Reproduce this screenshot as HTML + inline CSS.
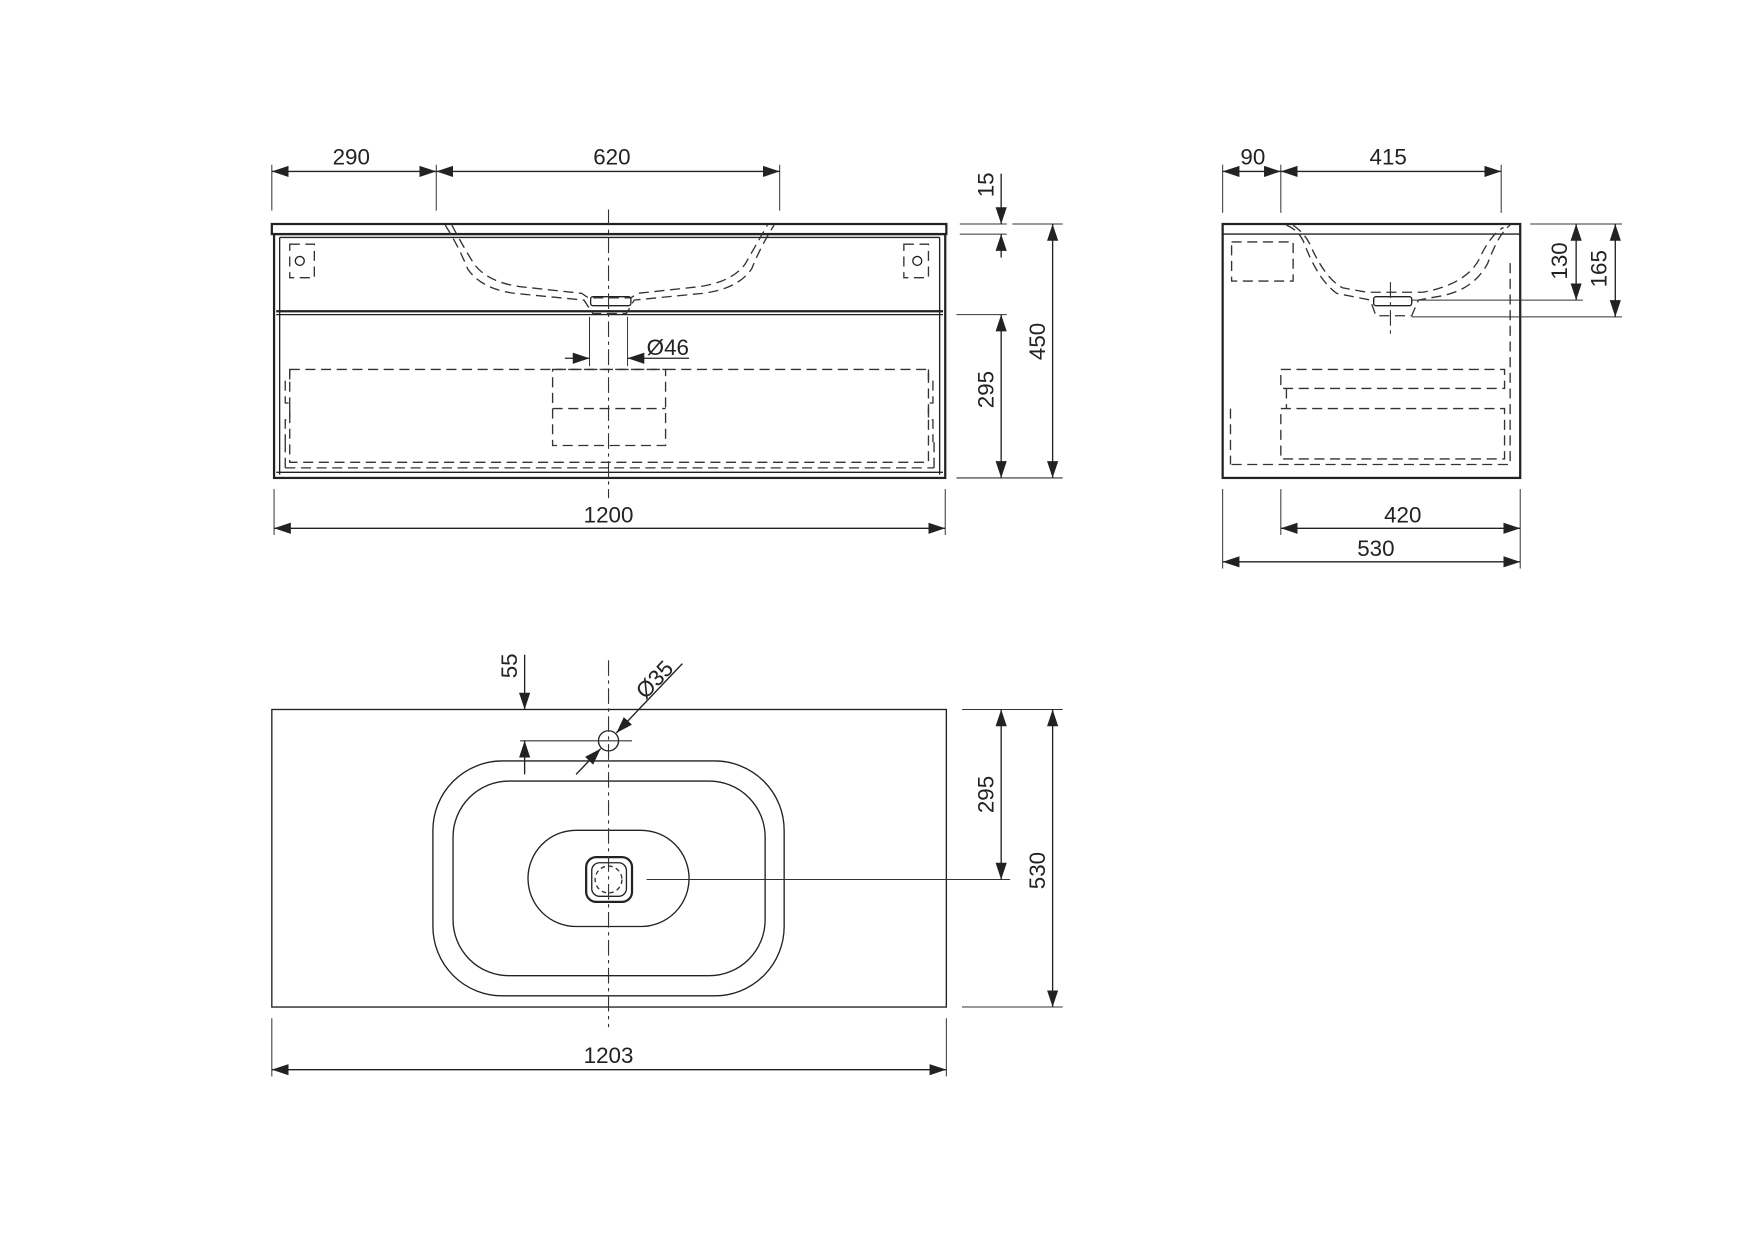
<!DOCTYPE html>
<html><head><meta charset="utf-8"><style>
html,body{margin:0;padding:0;background:#fff}
svg{display:block}
text{font-family:"Liberation Sans",Arial,sans-serif;font-size:20px;fill:#222}
.l{stroke:#222;stroke-width:1.2;fill:none}
.t{stroke:#222;stroke-width:2;fill:none}
.d{stroke:#333;stroke-width:1.2;fill:none;stroke-dasharray:9 5}
.c{stroke:#333;stroke-width:1;fill:none;stroke-dasharray:14 4 3 4}
.e{stroke:#333;stroke-width:0.9;fill:none}
</style></head><body>
<svg width="1754" height="1240" viewBox="0 0 1568 1108" xmlns="http://www.w3.org/2000/svg">
<defs>
<marker id="a" markerUnits="userSpaceOnUse" markerWidth="16" markerHeight="12" refX="15" refY="5" orient="auto-start-reverse"><path d="M0,0 L15,5 L0,10 Z" fill="#222"/></marker>
</defs>

<!-- FRONT VIEW -->
<rect x="243" y="200" width="603" height="9" class="t"/>
<rect x="245" y="209" width="600" height="218" class="t"/>
<line x1="250" y1="212" x2="250" y2="424" class="l"/>
<line x1="840" y1="212" x2="840" y2="424" class="l"/>
<line x1="250" y1="212" x2="840" y2="212" class="l"/>
<line x1="247" y1="278" x2="843" y2="278" class="t"/>
<line x1="247" y1="281" x2="843" y2="281" class="l"/>
<line x1="247" y1="422" x2="843" y2="422" class="l"/>
<!-- brackets -->
<rect x="259" y="218" width="22" height="30" class="d"/>
<circle cx="268" cy="233" r="4" class="l"/>
<rect x="808" y="218" width="22" height="30" class="d"/>
<circle cx="820" cy="233" r="4" class="l"/>
<!-- basin section -->
<path d="M398,201 Q410,220 418,240 Q430,258 460,262 L522,268 L530,280 L560,280 L567,268 L628,262 Q660,258 672,240 Q680,220 692,201" class="d"/>
<path d="M404,201 Q415,222 424,236 Q436,252 465,256 L520,262 L526,266 L564,266 L570,262 L625,256 Q654,252 666,236 Q674,222 686,201" class="d"/>
<rect x="528" y="265" width="36" height="8" rx="2" class="l"/>
<!-- drawer dashed -->
<rect x="259" y="330" width="571" height="83" class="d"/>
<rect x="494" y="330" width="101" height="68" class="d"/>
<line x1="494" y1="365" x2="595" y2="365" class="d"/>
<path d="M259,330 v10 h-4 v20 h4 v15 h-4 v20 M830,330 v10 h4 v20 h-4 v15 h4 v20" class="d"/>
<line x1="255" y1="395" x2="255" y2="418" class="d"/>
<line x1="835" y1="395" x2="835" y2="418" class="d"/>
<line x1="255" y1="418" x2="835" y2="418" class="d"/>
<!-- centerline -->
<line x1="544" y1="187" x2="544" y2="445" class="c"/>
<!-- ø46 -->
<line x1="527" y1="283" x2="527" y2="327" class="e"/>
<line x1="561" y1="283" x2="561" y2="327" class="e"/>
<line x1="505" y1="320" x2="527" y2="320" class="l" marker-end="url(#a)"/>
<line x1="616" y1="320" x2="561" y2="320" class="l" marker-end="url(#a)"/>
<text x="597" y="317" text-anchor="middle">Ø46</text>
<!-- 290 / 620 -->
<line x1="243" y1="147" x2="243" y2="188" class="e"/>
<line x1="390" y1="147" x2="390" y2="188" class="e"/>
<line x1="697" y1="147" x2="697" y2="188" class="e"/>
<line x1="243" y1="153" x2="390" y2="153" class="l" marker-start="url(#a)" marker-end="url(#a)"/>
<line x1="390" y1="153" x2="697" y2="153" class="l" marker-start="url(#a)" marker-end="url(#a)"/>
<text x="314" y="147" text-anchor="middle">290</text>
<text x="547" y="147" text-anchor="middle">620</text>
<!-- 15 -->
<line x1="858" y1="200" x2="900" y2="200" class="e"/>
<line x1="858" y1="209" x2="900" y2="209" class="e"/>
<line x1="895" y1="155" x2="895" y2="200" class="l" marker-end="url(#a)"/>
<line x1="895" y1="230" x2="895" y2="209" class="l" marker-end="url(#a)"/>
<text transform="translate(888,165) rotate(-90)" text-anchor="middle">15</text>
<!-- 295 / 450 -->
<line x1="855" y1="281" x2="900" y2="281" class="e"/>
<line x1="855" y1="427" x2="950" y2="427" class="e"/>
<line x1="905" y1="200" x2="950" y2="200" class="e"/>
<line x1="895" y1="281" x2="895" y2="427" class="l" marker-start="url(#a)" marker-end="url(#a)"/>
<line x1="941" y1="200" x2="941" y2="427" class="l" marker-start="url(#a)" marker-end="url(#a)"/>
<text transform="translate(888,348) rotate(-90)" text-anchor="middle">295</text>
<text transform="translate(934,305) rotate(-90)" text-anchor="middle">450</text>
<!-- 1200 -->
<line x1="245" y1="437" x2="245" y2="478" class="e"/>
<line x1="845" y1="437" x2="845" y2="478" class="e"/>
<line x1="245" y1="472" x2="845" y2="472" class="l" marker-start="url(#a)" marker-end="url(#a)"/>
<text x="544" y="467" text-anchor="middle">1200</text>

<!-- SIDE VIEW -->
<rect x="1093" y="200" width="266" height="227" class="t"/>
<line x1="1093" y1="209" x2="1359" y2="209" class="l"/>
<rect x="1101" y="216" width="55" height="35" class="d"/>
<path d="M1150,201 Q1160,205 1165,215 Q1178,250 1195,262 L1225,268 L1230,282 L1262,282 L1268,268 L1290,264 Q1318,258 1330,235 Q1340,208 1350,201" class="d"/>
<path d="M1156,201 Q1166,208 1171,218 Q1184,248 1200,257 L1222,261 L1272,261 Q1310,254 1322,232 Q1332,210 1344,203" class="d"/>
<rect x="1228" y="265" width="34" height="8" rx="2" class="l"/>
<line x1="1243" y1="252" x2="1243" y2="298" class="c"/>
<rect x="1145" y="330" width="200" height="17" class="d"/>
<rect x="1145" y="365" width="200" height="45" class="d"/>
<line x1="1150" y1="347" x2="1150" y2="365" class="d"/>
<line x1="1101" y1="415" x2="1350" y2="415" class="d"/>
<line x1="1350" y1="235" x2="1350" y2="415" class="d"/>
<line x1="1100" y1="365" x2="1100" y2="415" class="d"/>
<!-- 90 / 415 -->
<line x1="1093" y1="147" x2="1093" y2="190" class="e"/>
<line x1="1145" y1="147" x2="1145" y2="190" class="e"/>
<line x1="1342" y1="147" x2="1342" y2="190" class="e"/>
<line x1="1093" y1="153" x2="1145" y2="153" class="l" marker-start="url(#a)" marker-end="url(#a)"/>
<line x1="1145" y1="153" x2="1342" y2="153" class="l" marker-start="url(#a)" marker-end="url(#a)"/>
<text x="1120" y="147" text-anchor="middle">90</text>
<text x="1241" y="147" text-anchor="middle">415</text>
<!-- 130 / 165 -->
<line x1="1368" y1="200" x2="1450" y2="200" class="e"/>
<line x1="1262" y1="268" x2="1415" y2="268" class="e"/>
<line x1="1262" y1="283" x2="1450" y2="283" class="e"/>
<line x1="1409" y1="200" x2="1409" y2="268" class="l" marker-start="url(#a)" marker-end="url(#a)"/>
<line x1="1444" y1="200" x2="1444" y2="283" class="l" marker-start="url(#a)" marker-end="url(#a)"/>
<text transform="translate(1401,233) rotate(-90)" text-anchor="middle">130</text>
<text transform="translate(1436,240) rotate(-90)" text-anchor="middle">165</text>
<!-- 420 / 530 -->
<line x1="1093" y1="437" x2="1093" y2="508" class="e"/>
<line x1="1145" y1="437" x2="1145" y2="478" class="e"/>
<line x1="1359" y1="437" x2="1359" y2="508" class="e"/>
<line x1="1145" y1="472" x2="1359" y2="472" class="l" marker-start="url(#a)" marker-end="url(#a)"/>
<line x1="1093" y1="502" x2="1359" y2="502" class="l" marker-start="url(#a)" marker-end="url(#a)"/>
<text x="1254" y="467" text-anchor="middle">420</text>
<text x="1230" y="497" text-anchor="middle">530</text>

<!-- TOP VIEW -->
<rect x="243" y="634" width="603" height="266" class="l"/>
<rect x="387" y="680" width="314" height="210" rx="62" class="l"/>
<rect x="405" y="698" width="279" height="174" rx="50" class="l"/>
<rect x="472" y="742" width="144" height="86" rx="43" class="l"/>
<rect x="524" y="766" width="41" height="40" rx="9" class="t"/>
<rect x="529" y="771" width="31" height="30" rx="7" class="l"/>
<circle cx="544" cy="786" r="12" class="d" style="stroke-dasharray:4 3"/>
<circle cx="544" cy="662" r="9" class="l"/>
<line x1="544" y1="590" x2="544" y2="918" class="c"/>
<line x1="578" y1="786" x2="903" y2="786" class="e"/>
<!-- 55 -->
<line x1="465" y1="662" x2="565" y2="662" class="e"/>
<line x1="469" y1="585" x2="469" y2="634" class="l" marker-end="url(#a)"/>
<line x1="469" y1="692" x2="469" y2="662" class="l" marker-end="url(#a)"/>
<text transform="translate(462,595) rotate(-90)" text-anchor="middle">55</text>
<!-- ø35 -->
<line x1="610" y1="593" x2="551" y2="655" class="l" marker-end="url(#a)"/>
<line x1="515" y1="692" x2="537" y2="669" class="l" marker-end="url(#a)"/>
<text transform="translate(590,612) rotate(-46)" text-anchor="middle">Ø35</text>
<!-- 295 / 530 -->
<line x1="860" y1="634" x2="950" y2="634" class="e"/>
<line x1="860" y1="900" x2="950" y2="900" class="e"/>
<line x1="895" y1="634" x2="895" y2="786" class="l" marker-start="url(#a)" marker-end="url(#a)"/>
<line x1="941" y1="634" x2="941" y2="900" class="l" marker-start="url(#a)" marker-end="url(#a)"/>
<text transform="translate(888,710) rotate(-90)" text-anchor="middle">295</text>
<text transform="translate(934,778) rotate(-90)" text-anchor="middle">530</text>
<!-- 1203 -->
<line x1="243" y1="910" x2="243" y2="962" class="e"/>
<line x1="846" y1="910" x2="846" y2="962" class="e"/>
<line x1="243" y1="956" x2="846" y2="956" class="l" marker-start="url(#a)" marker-end="url(#a)"/>
<text x="544" y="950" text-anchor="middle">1203</text>
</svg>
</body></html>
